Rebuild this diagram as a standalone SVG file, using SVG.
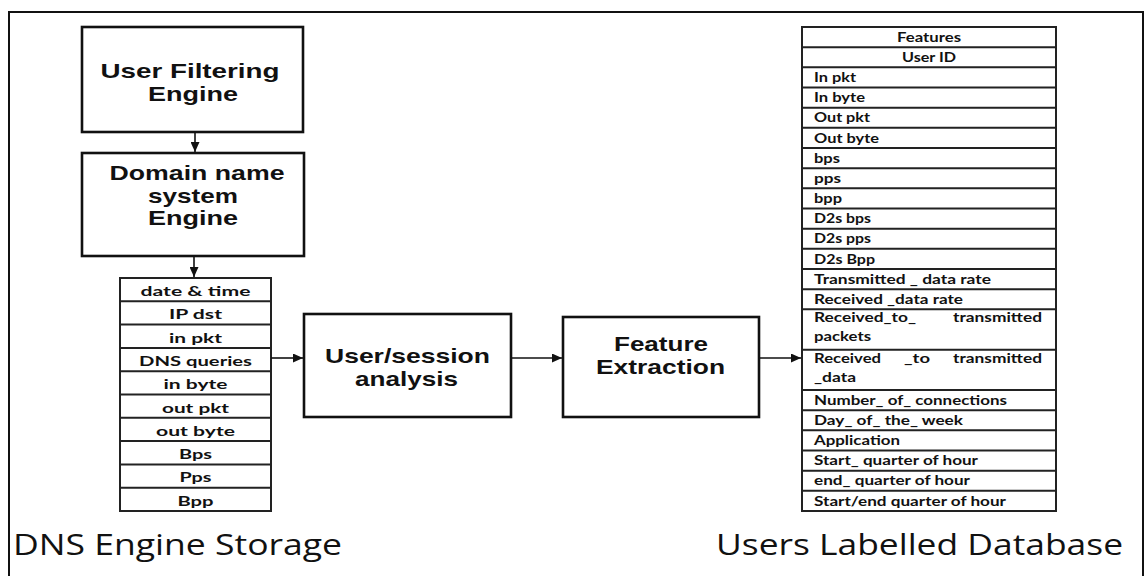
<svg xmlns="http://www.w3.org/2000/svg" width="1144" height="576" viewBox="0 0 1144 576">
<style>
.frame{fill:none;stroke:#111;stroke-width:2}
.box{fill:#fff;stroke:#111;stroke-width:2.6}
.cell{fill:#fff;stroke:#222;stroke-width:2}
.edge{fill:none;stroke:#111;stroke-width:1.6}
.bt{font-family:"Liberation Sans",Arial,sans-serif;font-weight:bold;font-size:21px;fill:#111;text-anchor:middle}
.lt{font-family:Lato,"Open Sans",sans-serif;font-weight:bold;font-size:14px;fill:#111;text-anchor:middle}
.rt{font-family:Lato,"Open Sans",sans-serif;font-weight:bold;font-size:13px;fill:#111}
.rtc{font-family:Lato,"Open Sans",sans-serif;font-weight:bold;font-size:13px;fill:#111;text-anchor:middle}
.cap{font-family:"Open Sans",Lato,sans-serif;font-size:30px;fill:#111}
</style>
<defs>
<marker id="ah" markerUnits="userSpaceOnUse" markerWidth="11" markerHeight="9" refX="10" refY="4.5" orient="auto">
<path d="M0,0 L10,4.5 L0,9 Z" fill="#111"/>
</marker>
</defs>
<rect width="1144" height="576" fill="#fff"/>
<path class="frame" d="M9,580 L9,12 L1143,12 L1143,580"/>

<g id="user-filtering-engine">
<rect class="box" x="82" y="27" width="221" height="105"/>
<text class="bt" x="190" y="78" textLength="179" lengthAdjust="spacingAndGlyphs">User Filtering</text>
<text class="bt" x="193" y="101" textLength="90" lengthAdjust="spacingAndGlyphs">Engine</text>
</g>

<g id="dns-engine">
<rect class="box" x="82" y="153" width="222" height="103"/>
<text class="bt" x="197" y="180" textLength="175" lengthAdjust="spacingAndGlyphs">Domain name</text>
<text class="bt" x="193" y="203" textLength="90" lengthAdjust="spacingAndGlyphs">system</text>
<text class="bt" x="193" y="225" textLength="90" lengthAdjust="spacingAndGlyphs">Engine</text>
</g>

<g id="dns-engine-storage">
<rect class="cell" x="120" y="278" width="151" height="233"/>
<path class="cell" d="M120,301.3H271M120,324.6H271M120,347.9H271M120,371.2H271M120,394.5H271M120,417.8H271M120,441.1H271M120,464.4H271M120,487.7H271"/>
<text class="lt" x="195.5" y="296" textLength="110" lengthAdjust="spacingAndGlyphs">date &amp; time</text>
<text class="lt" x="195.5" y="319.3" textLength="53" lengthAdjust="spacingAndGlyphs">IP dst</text>
<text class="lt" x="195.5" y="342.6" textLength="53" lengthAdjust="spacingAndGlyphs">in pkt</text>
<text class="lt" x="195.5" y="365.9" textLength="113" lengthAdjust="spacingAndGlyphs">DNS queries</text>
<text class="lt" x="195.5" y="389.2" textLength="64" lengthAdjust="spacingAndGlyphs">in byte</text>
<text class="lt" x="195.5" y="412.5" textLength="67" lengthAdjust="spacingAndGlyphs">out pkt</text>
<text class="lt" x="195.5" y="435.8" textLength="79" lengthAdjust="spacingAndGlyphs">out byte</text>
<text class="lt" x="195.5" y="459.1" textLength="33" lengthAdjust="spacingAndGlyphs">Bps</text>
<text class="lt" x="195.5" y="482.4" textLength="32" lengthAdjust="spacingAndGlyphs">Pps</text>
<text class="lt" x="195.5" y="505.7" textLength="36" lengthAdjust="spacingAndGlyphs">Bpp</text>
<text class="cap" x="13" y="555" textLength="329" lengthAdjust="spacingAndGlyphs">DNS Engine Storage</text>
</g>

<g id="user-session-analysis">
<rect class="box" x="304" y="314" width="207" height="103"/>
<text class="bt" x="407.5" y="363" textLength="165" lengthAdjust="spacingAndGlyphs">User/session</text>
<text class="bt" x="406.5" y="386" textLength="103" lengthAdjust="spacingAndGlyphs">analysis</text>
</g>

<g id="feature-extraction">
<rect class="box" x="563" y="317" width="196" height="100"/>
<text class="bt" x="661" y="351" textLength="94" lengthAdjust="spacingAndGlyphs">Feature</text>
<text class="bt" x="660.5" y="374" textLength="129" lengthAdjust="spacingAndGlyphs">Extraction</text>
</g>

<g id="users-labelled-database">
<rect class="cell" x="802" y="27" width="254" height="484"/>
<path class="cell" d="M802,47.2H1056M802,67.3H1056M802,87.5H1056M802,107.7H1056M802,127.8H1056M802,148H1056M802,168.2H1056M802,188.3H1056M802,208.5H1056M802,228.7H1056M802,248.8H1056M802,269H1056M802,289.2H1056M802,309.3H1056M802,349.7H1056M802,390H1056M802,410.2H1056M802,430.3H1056M802,450.5H1056M802,470.7H1056M802,490.8H1056"/>
<text class="rtc" x="929" y="41.7" textLength="64" lengthAdjust="spacingAndGlyphs">Features</text>
<text class="rtc" x="929" y="61.9" textLength="54" lengthAdjust="spacingAndGlyphs">User ID</text>
<text class="rt" x="814" y="82" textLength="42" lengthAdjust="spacingAndGlyphs">In pkt</text>
<text class="rt" x="814" y="102.2" textLength="51" lengthAdjust="spacingAndGlyphs">In byte</text>
<text class="rt" x="814" y="122.4" textLength="56" lengthAdjust="spacingAndGlyphs">Out pkt</text>
<text class="rt" x="814" y="142.5" textLength="65" lengthAdjust="spacingAndGlyphs">Out byte</text>
<text class="rt" x="814" y="162.7" textLength="26" lengthAdjust="spacingAndGlyphs">bps</text>
<text class="rt" x="814" y="182.9" textLength="27" lengthAdjust="spacingAndGlyphs">pps</text>
<text class="rt" x="814" y="203" textLength="28" lengthAdjust="spacingAndGlyphs">bpp</text>
<text class="rt" x="814" y="223.2" textLength="57" lengthAdjust="spacingAndGlyphs">D2s bps</text>
<text class="rt" x="814" y="243.4" textLength="57" lengthAdjust="spacingAndGlyphs">D2s pps</text>
<text class="rt" x="814" y="263.5" textLength="61" lengthAdjust="spacingAndGlyphs">D2s Bpp</text>
<text class="rt" x="814" y="283.7" textLength="177" lengthAdjust="spacingAndGlyphs">Transmitted _ data rate</text>
<text class="rt" x="814" y="303.9" textLength="149" lengthAdjust="spacingAndGlyphs">Received _data rate</text>
<text class="rt" x="814" y="322" textLength="102" lengthAdjust="spacingAndGlyphs">Received_to_</text>
<text class="rt" x="953" y="322" textLength="89" lengthAdjust="spacingAndGlyphs">transmitted</text>
<text class="rt" x="814" y="341" textLength="57" lengthAdjust="spacingAndGlyphs">packets</text>
<text class="rt" x="814" y="363.3" textLength="67" lengthAdjust="spacingAndGlyphs">Received</text>
<text class="rt" x="904" y="363.3" textLength="26" lengthAdjust="spacingAndGlyphs">_to</text>
<text class="rt" x="953" y="363.3" textLength="89" lengthAdjust="spacingAndGlyphs">transmitted</text>
<text class="rt" x="814" y="382" textLength="42" lengthAdjust="spacingAndGlyphs">_data</text>
<text class="rt" x="814" y="404.7" textLength="193" lengthAdjust="spacingAndGlyphs">Number_ of_ connections</text>
<text class="rt" x="814" y="424.9" textLength="149" lengthAdjust="spacingAndGlyphs">Day_ of_ the_ week</text>
<text class="rt" x="814" y="445" textLength="86" lengthAdjust="spacingAndGlyphs">Application</text>
<text class="rt" x="814" y="465.2" textLength="164" lengthAdjust="spacingAndGlyphs">Start_ quarter of hour</text>
<text class="rt" x="814" y="485.4" textLength="156" lengthAdjust="spacingAndGlyphs">end_ quarter of hour</text>
<text class="rt" x="814" y="505.5" textLength="192" lengthAdjust="spacingAndGlyphs">Start/end quarter of hour</text>
<text class="cap" x="716" y="555" textLength="407" lengthAdjust="spacingAndGlyphs">Users Labelled Database</text>
</g>

<g id="connectors">
<line class="edge" x1="195" y1="132" x2="195" y2="152" marker-end="url(#ah)"/>
<line class="edge" x1="194" y1="256" x2="194" y2="277" marker-end="url(#ah)"/>
<line class="edge" x1="271" y1="358" x2="303" y2="358" marker-end="url(#ah)"/>
<line class="edge" x1="511" y1="358" x2="562" y2="358" marker-end="url(#ah)"/>
<line class="edge" x1="759" y1="358" x2="801" y2="358" marker-end="url(#ah)"/>
</g>
</svg>
